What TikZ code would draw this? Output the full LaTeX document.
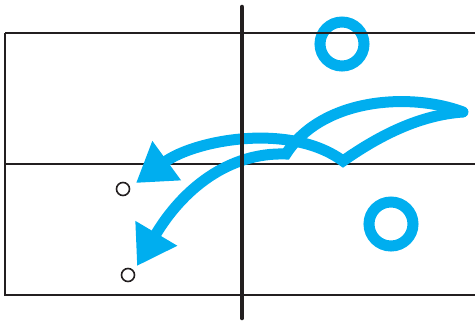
\documentclass[tikz,border=0pt]{standalone}
\usetikzlibrary{arrows.meta}
\definecolor{ballblue}{RGB}{0,174,239}
\definecolor{ink}{RGB}{35,31,32}
\tikzset{
  court/.style={line width=2.3pt, ink},
  netline/.style={line width=4.6pt, ink, line cap=round},
  traj/.style={line width=11pt, ballblue, line cap=round, line join=miter},
  player/.style={line width=11pt, ballblue},
  spot/.style={line width=1.6pt, ink}
}
\begin{document}
\begin{tikzpicture}[x=1pt,y=-1pt]
\useasboundingbox (0,0) rectangle (475,322);
% court
\draw[court] (475,164) -- (5,164);
\draw[court] (475,295) -- (5,295) -- (5,33);
% players
\draw[player] (342,44) circle (22);
\draw[player] (391,224) circle (22);
\draw[court] (5,33) -- (475,33);
% spots
\coordinate (s1) at (123,189);
\coordinate (s2) at (128,275);
\draw[spot] (s1) circle (6.5);
\draw[spot] (s2) circle (6.5);
% trajectories
\coordinate (R) at (463,112);
\coordinate (V) at (343,161);
\coordinate (K) at (286,154);
\coordinate (T1) at (136,183);
\coordinate (T2) at (137,266);
\draw[traj,-{Triangle[length=38pt,width=46pt]}] (R) .. controls (420,115) and (380,135) .. (V)
  .. controls (290,122) and (195,140) .. (T1);
\draw[traj,-{Triangle[length=38pt,width=46pt]}] (R) .. controls (410,92) and (322,98) .. (K)
  .. controls (228,152) and (182,190) .. (T2);
% net
\draw[netline] (242,7) -- (242,318);
\end{tikzpicture}
\end{document}
